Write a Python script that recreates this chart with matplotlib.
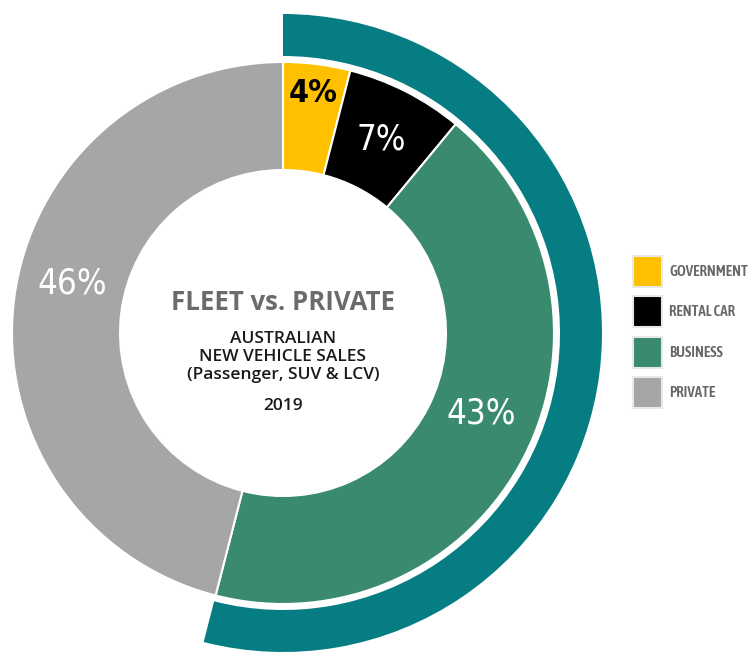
import numpy as np
import matplotlib.pyplot as plt
from matplotlib import font_manager
from matplotlib.font_manager import FontProperties

# data
segments = ["GOVERNMENT", "RENTAL CAR", "BUSINESS", "PRIVATE"]
shares = [4, 7, 43, 46]
colors = ["#FFC000", "#000000", "#3A8B6E", "#A6A6A6"]
label_colors = ["#000000", "#FFFFFF", "#FFFFFF", "#FFFFFF"]
fleet_vs_private = [54, 46]  # fleet = gov + rental + business

title = "FLEET vs. PRIVATE"
subtitle = "AUSTRALIAN\nNEW VEHICLE SALES\n(Passenger, SUV & LCV)"
year = "2019"


def find_narrow(target_weight):
    # closest upright condensed / narrow face to the wanted weight
    best = None
    for f in font_manager.fontManager.ttflist:
        name = f.name.lower()
        st = str(f.stretch).lower()
        if not ("condensed" in name or "narrow" in name or "condensed" in st):
            continue
        if f.style != "normal" or "extra" in name or "ultra" in name:
            continue
        w = f.weight
        if isinstance(w, str):
            w = font_manager.weight_dict.get(w, 400)
        score = abs(w - target_weight)
        if best is None or score < best[0]:
            best = (score, f.fname)
    return best[1] if best else None


pct_file = find_narrow(400)
installed = {f.name for f in font_manager.fontManager.ttflist}
center_font = "Open Sans" if "Open Sans" in installed else "DejaVu Sans"

if pct_file:
    pct_prop = FontProperties(fname=pct_file, size=25)
    bold_pct = FontProperties(fname=find_narrow(700), size=23)
    leg_prop = FontProperties(fname=find_narrow(600), size=10.8)
else:
    pct_prop = FontProperties(family="Roboto", size=23)
    bold_pct = FontProperties(family="Roboto", size=21, weight="bold")
    leg_prop = FontProperties(family="Roboto", size=8.5, weight="bold")

W, H = 748, 652
fig = plt.figure(figsize=(W / 100, H / 100), dpi=100)
ax = fig.add_axes([0, 0, 1, 1])

cx, cy = 283, H - 333
r_out, r_in = 271, 163

wedges, _ = ax.pie(shares, colors=colors, startangle=90, counterclock=False,
                   radius=r_out, center=(cx, cy),
                   wedgeprops=dict(width=r_out - r_in, edgecolor="white", linewidth=1.5))

# outer fleet ring
ax.pie(fleet_vs_private, colors=["#067C83", "none"], startangle=90, counterclock=False,
       radius=319, center=(cx, cy), wedgeprops=dict(width=42, linewidth=0))

# percentage labels, placed along each wedge
r_frac = [0.89, 0.80, 0.79, 0.80]
ang_shift = [0, 0, 5, -6]
for w, val, tc, rf, sh in zip(wedges, shares, label_colors, r_frac, ang_shift):
    ang = np.deg2rad((w.theta1 + w.theta2) / 2 + sh)
    x = cx + rf * r_out * np.cos(ang)
    y = cy + rf * r_out * np.sin(ang)
    ax.text(x, y, f"{val}%", ha="center", va="center", color=tc,
            fontproperties=bold_pct if tc == "#000000" else pct_prop)

ax.text(cx, H - 302, title, ha="center", va="center", fontsize=18.5,
        fontweight="bold", color="#6B6B6B", family=center_font)
ax.text(cx, H - 357, subtitle, ha="center", va="center", fontsize=12.5,
        fontweight="semibold", color="#1A1A1A", family=center_font, linespacing=1.15)
ax.text(cx, H - 406, year, ha="center", va="center", fontsize=12.5,
        fontweight="semibold", color="#1A1A1A", family=center_font)

leg = ax.legend(wedges, segments, loc="upper left", bbox_to_anchor=(633 / W, 1 - 256 / H),
                frameon=False, handlelength=1.9, handleheight=2.78, handletextpad=0.5,
                labelspacing=0.64, borderpad=0, borderaxespad=0, prop=leg_prop)
for t in leg.get_texts():
    t.set_color("#666666")
for p in leg.get_patches():
    p.set_edgecolor("#E8E8E8")

ax.set_xlim(0, W)
ax.set_ylim(0, H)
ax.set_aspect("equal")
ax.axis("off")

fig.savefig("out.png", dpi=100)
